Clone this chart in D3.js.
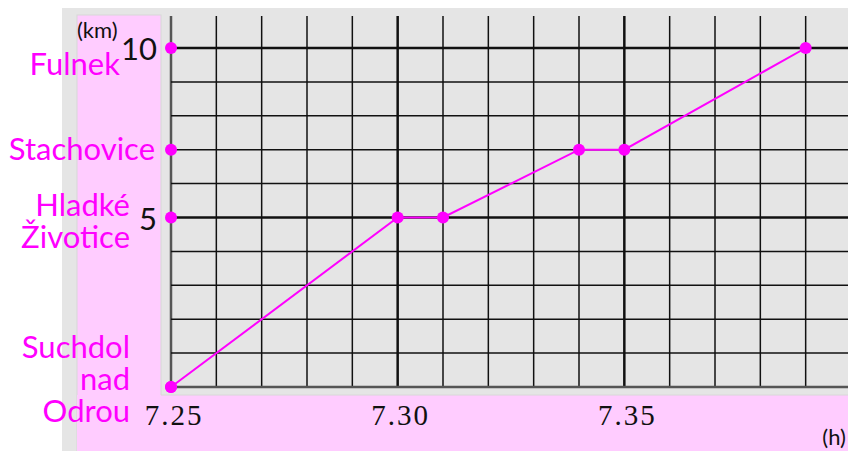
<!DOCTYPE html>
<html><head><meta charset="utf-8">
<script src="https://cdn.jsdelivr.net/npm/d3@7"></script>
<style>body{margin:0;background:#fff}svg{display:block}</style>
</head><body>
<script>
// Data
const stationNames = [["Suchdol","nad","Odrou"],["Hladké","Životice"],["Stachovice"],["Fulnek"]];
const stationKm = [0, 5, 7, 10];
const tripMinutes = [25, 30, 31, 34, 35, 39]; // minutes after 7:00
const tripKm = [0, 5, 5, 7, 7, 10];
const xTickValues = [25, 30, 35];
const xTickLabels = ["7.25", "7.30", "7.35"];
const yTickValues = [5, 10];
const yTickLabels = ["5", "10"];

const W = 848, H = 451;
const svg = d3.select("body").append("svg").attr("width", W).attr("height", H);

const x = d3.scaleLinear().domain([25, 40]).range([171, 851]);
const y = d3.scaleLinear().domain([0, 10]).range([387, 48]);
const plotTop = 16, plotBottom = y(0), plotRight = W;

// backgrounds
svg.append("rect").attr("x", 62).attr("y", 8).attr("width", W - 62).attr("height", H - 8).attr("fill", "#e5e5e5");
svg.append("rect").attr("x", 77).attr("y", 15).attr("width", 84).attr("height", H - 15).attr("fill", "#ffccff").attr("stroke", "#d8d8d8").attr("stroke-width", 1);
svg.append("rect").attr("x", 77).attr("y", 395).attr("width", W - 77).attr("height", H - 395).attr("fill", "#ffccff");
svg.append("line").attr("x1", 161).attr("x2", W).attr("y1", 395).attr("y2", 395).attr("stroke", "#d8d8d8");

// grid
const g = svg.append("g");
const minutes = d3.range(25, 41);
g.selectAll("line.v").data(minutes).join("line")
  .attr("x1", d => x(d)).attr("x2", d => x(d))
  .attr("y1", plotTop).attr("y2", plotBottom)
  .attr("stroke", d => d === 25 ? "#555" : "#111")
  .attr("stroke-width", d => d % 5 === 0 ? 2.5 : 1.5);
const kms = d3.range(0, 11);
g.selectAll("line.h").data(kms).join("line")
  .attr("x1", x(25)).attr("x2", plotRight)
  .attr("y1", d => y(d)).attr("y2", d => y(d))
  .attr("stroke", d => d === 0 ? "#555" : "#111")
  .attr("stroke-width", d => d % 5 === 0 ? 2.5 : 1.5);

// trip line
const pts = tripMinutes.map((m, i) => [m, tripKm[i]]);
svg.append("path").datum(pts)
  .attr("d", d3.line().x(d => x(d[0])).y(d => y(d[1])))
  .attr("fill", "none").attr("stroke", "#ff00ff").attr("stroke-width", 2);
svg.selectAll("circle.p").data(pts).join("circle")
  .attr("cx", d => x(d[0])).attr("cy", d => y(d[1])).attr("r", 6).attr("fill", "#ff00ff");
svg.selectAll("circle.s").data(stationKm).join("circle")
  .attr("cx", x(25)).attr("cy", d => y(d)).attr("r", 6).attr("fill", "#ff00ff");

// station labels
const labelFont = "Lato, 'Open Sans', sans-serif";
stationNames.forEach((lines, i) => {
  const km = stationKm[i];
  const rightX = lines.length === 1 ? (lines[0] === "Fulnek" ? 120 : 155) : 130;
  const lh = 32;
  let baseY;
  if (lines.length === 1) baseY = lines[0] === "Fulnek" ? y(km) + 27 : y(km) + 10;
  else if (lines.length === 2) baseY = y(km) - 2;
  else baseY = y(km) - 29;
  const t = svg.append("text").attr("text-anchor", "end").attr("fill", "#ff00ff")
    .attr("font-family", labelFont).attr("font-size", 31);
  lines.forEach((ln, j) => {
    t.append("tspan").attr("x", rightX).attr("y", baseY + j * lh).text(ln);
  });
});

// y tick labels
svg.selectAll("text.yt").data(yTickValues).join("text")
  .attr("x", 157).attr("y", d => y(d) + 12)
  .attr("text-anchor", "end").attr("font-family", labelFont).attr("font-size", 31).attr("fill", "#111")
  .text((d, i) => yTickLabels[i]);
svg.append("text").attr("x", 77).attr("y", 38).attr("font-family", labelFont).attr("font-size", 22).attr("fill", "#111").text("(km)");

// x tick labels
svg.selectAll("text.xt").data(xTickValues).join("text")
  .attr("x", d => x(d) + 3).attr("y", 425)
  .attr("text-anchor", "middle").attr("font-family", "'Liberation Serif', serif").attr("font-size", 29)
  .attr("letter-spacing", 2).attr("fill", "#111")
  .text((d, i) => xTickLabels[i]);
svg.append("text").attr("x", 846).attr("y", 445).attr("text-anchor", "end").attr("font-family", labelFont).attr("font-size", 22).attr("fill", "#111").text("(h)");
</script>
</body></html>
